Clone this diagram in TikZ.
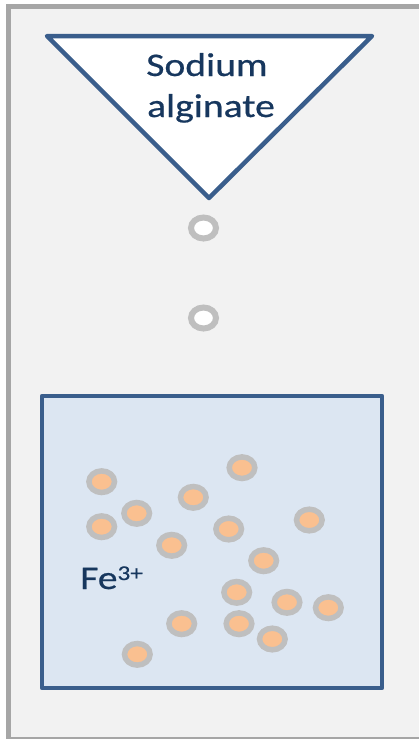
\documentclass[tikz,border=0pt]{standalone}
\usepackage{fontspec}
\newfontfamily\calib[FakeStretch=1.2,FakeBold=0.6]{Carlito}
\definecolor{bgpanel}{HTML}{F2F2F2}
\definecolor{framegray}{HTML}{A6A6A6}
\definecolor{outlineblue}{HTML}{3A5E8C}
\definecolor{boxfill}{HTML}{DCE6F2}
\definecolor{txtnavy}{HTML}{17375E}
\definecolor{ringgray}{HTML}{BFBFBF}
\definecolor{ionorange}{HTML}{FAC090}
\tikzset{
  ion/.style={draw=ringgray, fill=ionorange, line width=5.5pt},
  droplet/.style={draw=ringgray, fill=white, line width=6pt},
  labeltext/.style={text=txtnavy, font=\calib\fontsize{33}{41}\selectfont, inner sep=0pt},
}
\begin{document}
\begin{tikzpicture}[x=1pt,y=-1pt]
\useasboundingbox (0,0) rectangle (419,739);
\fill[white] (0,0) rectangle (419,739);
% panel
\fill[bgpanel] (8.5,6.5) rectangle (419,737.5);
\draw[framegray, line width=5pt] (8.5,739) -- (8.5,6.5) -- (419,6.5);
\draw[framegray, line width=2pt] (6,737.8) -- (419,737.8);
% funnel triangle
\draw[outlineblue, fill=white, line width=4.5pt, line join=round] (47,36) -- (372,36) -- (209,198) -- cycle;
\node[labeltext, anchor=base] (sodium) at (207,76) {Sodium};
\node[labeltext, anchor=base] (alginate) at (211,117) {alginate};
% droplets
\draw[droplet] (203.5,228) ellipse [x radius=12.5, y radius=10.5];
\draw[droplet] (203.5,318) ellipse [x radius=12.5, y radius=10.5];
% bath
\draw[outlineblue, fill=boxfill, line width=4.5pt, line join=round] (42,396) rectangle (382,688);
\node[labeltext, anchor=base west] (fe) at (80,589) {Fe\raisebox{9pt}{\fontsize{21}{21}\selectfont 3+}};
% ions
\foreach \x/\y in {101.7/481.7, 242/467.7, 193.3/497.3, 136.7/513.3, 101.7/526.7, 228.7/529,
  309.3/520, 171.7/545.3, 263.7/560.7, 236.7/592.3, 287/602.3, 328.3/607.7, 181.7/623.7,
  239/623.7, 272.3/639, 137.3/654.3}
  \draw[ion] (\x,\y) ellipse [x radius=12.8, y radius=10.8];
\end{tikzpicture}
\end{document}
